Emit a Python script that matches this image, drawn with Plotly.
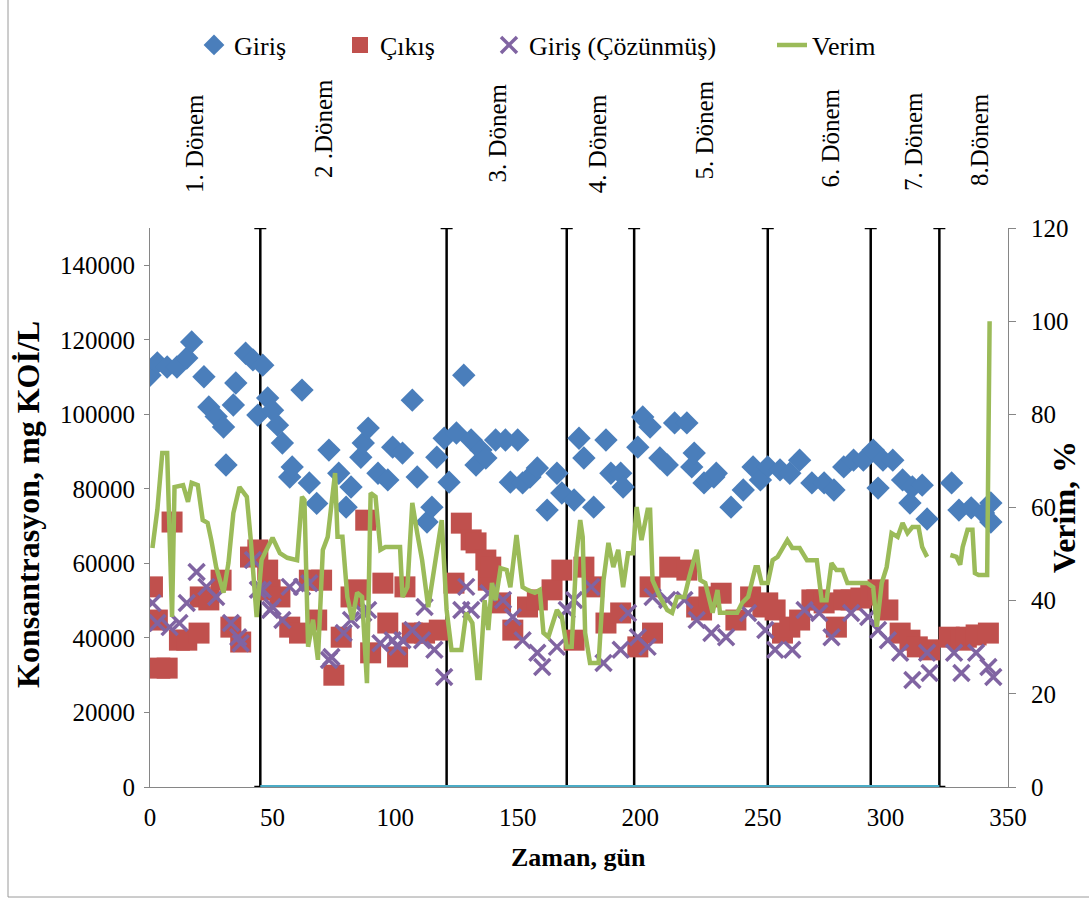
import plotly.graph_objects as go

# Giriş (influent COD), mg KOİ/L
giris_day = [0, 3, 7, 11, 15, 17, 22, 24, 27, 30, 31, 34, 35, 39, 42, 44, 46, 48, 50, 52,
             54, 57, 58, 62, 65, 68, 73, 77, 80, 82, 86, 87, 89, 93, 97, 99, 103, 107, 109, 113,
             115, 117, 120, 122, 125, 128, 131, 133, 135, 137, 141, 145, 147, 150, 152, 155, 158, 162, 166, 168,
             173, 175, 177, 181, 186, 188, 192, 193, 199, 201, 204, 208, 211, 214, 219, 221, 222, 226, 230, 231,
             237, 242, 246, 249, 252, 257, 261, 265, 270, 275, 279, 283, 287, 291, 295, 297, 299, 303, 307, 310,
             311, 315, 317, 327, 330, 335, 340, 343, 343]
giris_val = [110500, 113800, 112700, 112700, 115100, 119400, 110100, 102000, 99400, 96600,
             86400, 102500, 108400, 116400, 114600, 99800, 113200, 104400, 101100, 97100,
             92300, 83200, 85900, 106500, 81600, 76100, 90400, 84200, 75100, 80500,
             88500, 92300, 96300, 84200, 82400, 91200, 89600, 103800, 83200, 71100,
             75100, 88500, 93600, 81800, 95000, 110500, 93100, 86400, 90400, 88300,
             93100, 93100, 81800, 93100, 81600, 83200, 85600, 74300, 84200, 78900,
             77000, 93600, 88300, 75100, 93100, 84200, 84200, 80500, 91200, 99300,
             96600, 88300, 86400, 97700, 97700, 85900, 89600, 81600, 83200, 84200,
             75100, 79700, 85900, 82400, 85900, 85100, 84200, 87700, 81600, 81600,
             79700, 85900, 87700, 87700, 90400, 80200, 87700, 87700, 82400, 76200,
             80500, 81000, 71900, 81600, 74300, 74900, 73500, 76200, 71100]

# Çıkış (effluent COD)
cikis_day = [1, 3, 4, 7, 9, 12, 15, 20, 20.5, 24, 29, 33, 37, 41, 44, 48, 49, 53, 57, 61,
             65, 68, 70, 75, 78, 82, 85, 88, 90, 95, 97, 101, 104, 107, 112, 118, 124, 127, 131, 133,
             137, 138, 139, 143, 148, 154, 158, 164, 168, 173, 177, 181, 186, 192, 199, 204, 205, 212, 219, 223,
             225, 228, 233, 239, 245, 250, 252, 255, 258, 261, 265, 270, 272, 275, 280, 283, 286, 290, 294, 297,
             301, 306, 310, 313, 318, 326, 331, 333, 337, 342]
cikis_val = [53700, 44800, 31900, 31900, 71100, 39400, 39400, 41300, 51000, 50200,
             55500, 42900, 38900, 61700, 63600, 58200, 52900, 51000, 42900, 41300,
             55500, 44800, 55500, 30000, 40200, 51000, 52900, 71600, 36000, 54700,
             44000, 34900, 53700, 41300, 41300, 42100, 54700, 70800, 66300, 65500,
             60900, 55500, 59000, 49400, 42100, 48300, 50200, 52900, 58200, 39400,
             59000, 53700, 44000, 46700, 37600, 53700, 41300, 59000, 58200, 48300,
             47500, 51000, 52000, 44800, 51000, 48300, 49400, 47500, 41300, 42900,
             44800, 50200, 50200, 49400, 42900, 50200, 50200, 50700, 51500, 52900,
             47500, 41300, 39400, 37600, 36800, 40200, 39400, 40200, 40800, 41300]

# Giriş (Çözünmüş) (soluble influent COD)
coz_day = [1, 3, 8, 12, 15, 19, 23, 27, 33, 36, 37, 42, 44, 46, 49, 50, 54, 57, 62, 65,
           73, 74, 79, 82, 87, 89, 94, 99, 101, 103, 107, 111, 112, 116, 120, 127, 129, 131, 138, 144,
           148, 152, 158, 160, 166, 170, 173, 180, 185, 192, 195, 199, 203, 205, 211, 218, 223, 229, 235, 244,
           251, 255, 262, 267, 273, 278, 286, 293, 297, 301, 306, 311, 317, 318, 328, 331, 337, 342, 344]
coz_val = [49400, 44000, 42900, 44000, 49400, 57700, 53700, 51000, 44000, 40200,
           38600, 60900, 52900, 52900, 47500, 48300, 44800, 53700, 53700, 54700,
           34100, 34900, 41300, 44800, 46700, 47500, 38600, 39400, 37600, 39400,
           42100, 39400, 48300, 36800, 29500, 47500, 53700, 47500, 52000, 50200,
           45600, 39400, 36000, 32200, 37600, 47500, 50200, 53700, 33300, 36800,
           46700, 40200, 37600, 51000, 50200, 50200, 44800, 41300, 40200, 46700,
           42100, 36800, 36800, 47500, 46700, 40200, 46700, 45600, 42100, 39400,
           36000, 28700, 36000, 30600, 36000, 30600, 36000, 32200, 29500]

# Verim (removal efficiency), %; None marks the days without a measurement
verim_day = [1, 3, 5, 7, 9, 10, 13.5, 15.5, 17, 19.5, 21.5, 23.5, 25, 27, 30, 32, 34, 36.5, 39.5, 41,
             43.5, 45.5, 47.5, 50, 53, 56, 60, 62, 63, 64.5, 66.5, 68.5, 70.5, 72.5, 75.5, 76.5, 78.5, 80.5, 82.5, 84.5,
             86.5, 88.5, 90, 92, 94, 96, 102, 103, 105, 107, 109, 111, 113.5, 117.5, 119, 121, 123, 127, 129, 131.5,
             133.5, 134.5, 136.5, 138, 139.5, 141, 143, 145.5, 147, 149.5, 152, 154, 157, 159, 160.5, 162.5, 166, 168, 170, 172,
             174, 175.5, 176.5, 177.5, 179.5, 183, 185, 187, 189, 191, 193, 195, 197, 198.5, 200.5, 203, 204, 205, 208, 211,
             213, 215, 218, 220, 223, 224.5, 226.5, 227.5, 229.5, 231.5, 232.5, 239.5, 241.5, 244, 247, 248, 249.5, 252, 254, 256,
             260, 262, 265, 268, 272, 274, 276, 278, 280, 282.5, 284.5, 292.5, 295, 296.5, 298.5, 300.5, 302.5, 305, 307, 309,
             311, 313.5, 315, 317, 321, 326.5, 329, 330.5, 331.5, 333.5, 335.5, 336.5, 338, 341.5, 342.5]
verim_val = [51.3, 59.5, 71.7, 71.7, 36.5, 64.4, 64.8, 61.2, 65.3, 64.8, 57.3, 56.7, 53.0, 47.2, 41.7, 48.1, 58.8, 64.4, 62.3, 53.7,
             36.5, 48.7, 50.9, 53.5, 50.2, 49.2, 48.7, 62.3, 61.6, 30.1, 35.9, 27.3, 50.9, 53.7, 67.4, 53.7, 53.7, 40.8, 35.9, 41.7,
             40.8, 22.3, 63.1, 62.3, 50.9, 51.5, 51.5, 40.8, 42.9, 61.0, 54.5, 48.7, 38.6, 53.0, 57.3, 38.0, 29.4, 29.4, 37.4, 35.2,
             23.4, 23.4, 40.1, 33.7, 43.8, 40.1, 47.0, 46.6, 42.9, 54.1, 42.9, 42.3, 41.7, 42.3, 33.1, 32.2, 38.0, 36.5, 30.1, 30.1,
             50.2, 57.3, 53.7, 33.1, 26.6, 26.6, 44.4, 52.4, 47.2, 50.9, 42.9, 50.2, 50.2, 60.1, 53.0, 59.5, 59.5, 44.4, 40.8, 38.0,
             37.4, 40.8, 40.8, 45.1, 50.9, 44.4, 43.8, 41.7, 37.4, 42.3, 37.4, 37.4, 39.5, 40.8, 47.2, 47.2, 43.8, 43.8, 48.7, 49.4,
             53.0, 51.3, 51.3, 48.7, 48.7, 40.1, 40.1, 48.1, 46.6, 46.6, 43.8, 43.8, 42.9, 34.4, 43.8, 47.2, 54.5, 53.7, 56.7, 54.5,
             55.8, 55.8, 51.5, 49.4, None, 49.8, 49.4, 47.7, 51.5, 55.2, 55.2, 45.9, 45.5, 45.5, 100.0]

# Period boundaries (days) and period names
period_bounds = [45, 121, 170, 197.5, 252, 294, 322]
period_names = ["1. Dönem", "2 .Dönem", "3. Dönem", "4. Dönem",
                "5. Dönem", "6. Dönem", "7. Dönem", "8.Dönem"]

Y_MAX = 150000
Y2_MAX = 120

SERIF = "Liberation Serif"
W, H = 1089, 901
ML, MR, MT, MB = 150, 81, 228, 114
PW, PH = W - ML - MR, H - MT - MB


def px_x(px):
    return (px - ML) / PW


def px_y(py):
    return (H - MB - py) / PH


fig = go.Figure()

# period boundary markers: a baseline with full-height bars at each boundary
fig.add_trace(go.Scatter(
    x=period_bounds, y=[0] * len(period_bounds), mode="lines",
    line=dict(color="#4BACC6", width=4), showlegend=False, hoverinfo="skip",
    error_y=dict(type="data", symmetric=False,
                 array=[Y_MAX] * len(period_bounds), arrayminus=[0] * len(period_bounds),
                 color="black", thickness=2.5, width=6),
))

fig.add_trace(go.Scatter(
    x=giris_day, y=giris_val, mode="markers", name="Giriş", legend="legend",
    marker=dict(symbol="diamond", size=18, color="#4A7EBB"),
))
fig.add_trace(go.Scatter(
    x=cikis_day, y=cikis_val, mode="markers", name="Çıkış", legend="legend2",
    marker=dict(symbol="square", size=21, color="#C0504D"),
))
fig.add_trace(go.Scatter(
    x=coz_day, y=coz_val, mode="markers", name="Giriş (Çözünmüş)", legend="legend3",
    marker=dict(symbol="x-thin", size=16, color="#8064A2",
                line=dict(color="#8064A2", width=3.5)),
))
fig.add_trace(go.Scatter(
    x=verim_day, y=verim_val, mode="lines", name="Verim", legend="legend4", yaxis="y2",
    line=dict(color="#9BBB59", width=4.5), connectgaps=False,
))

legend_common = dict(orientation="h", yanchor="middle", y=px_y(45), xanchor="left",
                     font=dict(family=SERIF, size=26, color="black"),
                     bgcolor="rgba(0,0,0,0)", borderwidth=0)

# period labels: (day of centre, pixel row of the text foot)
label_pos = [(18.2, 195), (70.8, 180), (141.6, 185), (182.6, 195),
             (226.0, 182), (277.4, 190), (311.5, 193), (338.4, 188)]
annotations = []
for name, (d, foot) in zip(period_names, label_pos):
    annotations.append(dict(
        text=name, x=d, xref="x", y=px_y(foot), yref="paper", textangle=-90,
        xanchor="center", yanchor="bottom", showarrow=False,
        font=dict(family=SERIF, size=25, color="black"),
    ))

annotations += [
    dict(text="<b>Konsantrasyon, mg KOİ/L</b>", x=px_x(28), y=px_y(505), xref="paper", yref="paper",
         textangle=-90, showarrow=False, xanchor="center", yanchor="middle",
         font=dict(family=SERIF, size=32, color="black")),
    dict(text="<b>Verim, %</b>", x=px_x(1064), y=px_y(507), xref="paper", yref="paper",
         textangle=-90, showarrow=False, xanchor="center", yanchor="middle",
         font=dict(family=SERIF, size=32, color="black")),
    dict(text="<b>Zaman, gün</b>", x=px_x(578), y=px_y(857), xref="paper", yref="paper",
         showarrow=False, xanchor="center", yanchor="middle",
         font=dict(family=SERIF, size=26, color="black")),
]

tick_font = dict(family=SERIF, size=25, color="black")

fig.update_layout(
    width=W, height=H,
    margin=dict(l=ML, r=MR, t=MT, b=MB, pad=0),
    paper_bgcolor="white", plot_bgcolor="white",
    font=dict(family=SERIF, color="black"),
    legend=dict(legend_common, x=px_x(194)),
    legend2=dict(legend_common, x=px_x(340)),
    legend3=dict(legend_common, x=px_x(489)),
    legend4=dict(legend_common, x=px_x(772)),
    xaxis=dict(range=[0, 350], tickmode="linear", tick0=0, dtick=50,
               showgrid=False, zeroline=False, showline=True, linecolor="#868686", linewidth=1,
               ticks="", tickfont=tick_font, ticklabelstandoff=8),
    yaxis=dict(range=[0, Y_MAX], tickmode="linear", tick0=0, dtick=20000, tickformat="d",
               showgrid=False, zeroline=False, showline=True, linecolor="#868686", linewidth=1,
               ticks="outside", ticklen=5, tickcolor="#868686", tickfont=tick_font,
               ticklabelstandoff=4),
    yaxis2=dict(range=[0, Y2_MAX], tickmode="linear", tick0=0, dtick=20, overlaying="y", side="right",
                showgrid=False, zeroline=False, showline=True, linecolor="#868686", linewidth=1,
                ticks="outside", ticklen=7, tickcolor="#868686", tickfont=tick_font,
                ticklabelstandoff=10),
    annotations=annotations,
    shapes=[
        dict(type="line", xref="paper", yref="paper", x0=px_x(8), x1=px_x(8), y0=px_y(897), y1=px_y(-5),
             line=dict(color="#9a9a9a", width=1)),
        dict(type="line", xref="paper", yref="paper", x0=px_x(8), x1=px_x(1095), y0=px_y(897), y1=px_y(897),
             line=dict(color="#9a9a9a", width=1)),
    ],
    showlegend=True,
)

fig.write_html("out.html")
